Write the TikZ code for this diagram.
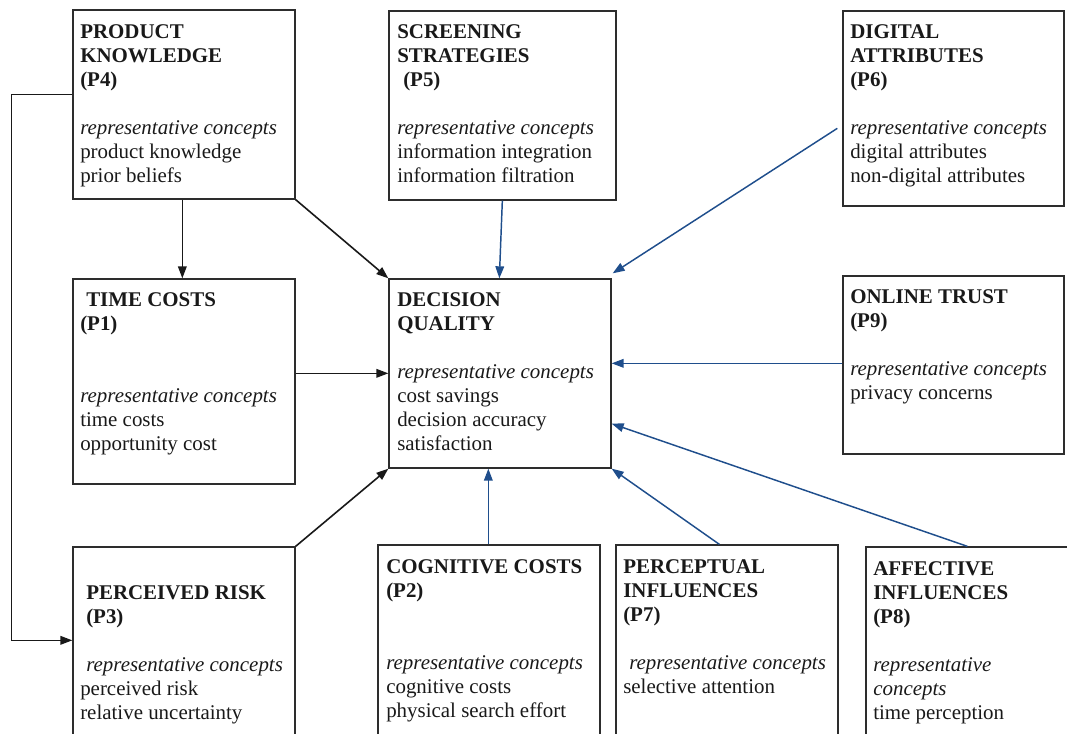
\documentclass[tikz,border=0pt]{standalone}
\usepackage{fontspec}
\setmainfont{Liberation Serif}
\usetikzlibrary{fit,calc,arrows.meta}
\definecolor{arrblue}{RGB}{31,78,140}
\definecolor{boxgray}{RGB}{45,45,45}
\definecolor{txt}{RGB}{25,25,25}
\newcommand{\rc}{\textit{representative concepts}}
\begin{document}
\begin{tikzpicture}[x=0.75pt,y=-0.75pt,
  box/.style={draw=boxgray,line width=1pt,rectangle,inner sep=0pt},
  label/.style={anchor=north west,inner sep=0pt,align=left,text=txt,font=\fontsize{15.7}{18}\selectfont},
  blk/.style={draw=black!90,line width=1.2pt,-{Triangle[length=9pt,width=6.5pt]}},
  blu/.style={draw=arrblue,line width=1.1pt,-{Triangle[length=9pt,width=6.5pt]}}]
\useasboundingbox (0,0) rectangle (1067,734);
\clip (0,0) rectangle (1067,734);
% boxes
\node[box,fit={(73,10) (295,199)}] (p4) {};
\node[box,fit={(389,11) (616,200)}] (p5) {};
\node[box,fit={(843,11) (1064,206)}] (p6) {};
\node[box,fit={(73,279) (295,484)}] (p1) {};
\node[box,fit={(389,279) (611,468)}] (dq) {};
\node[box,fit={(843,276) (1064,454)}] (p9) {};
\node[box,fit={(73,547) (295,760)}] (p3) {};
\node[box,fit={(378,545) (600,760)}] (p2) {};
\node[box,fit={(616,545) (838,760)}] (p7) {};
\node[box,fit={(866,547) (1095,760)}] (p8) {};
% texts
\node[label] (t4) at (80,24) {\textbf{PRODUCT}\\\textbf{KNOWLEDGE}\\\textbf{(P4)}\\[18pt]\rc\\product knowledge\\prior beliefs};
\node[label] (t5) at (397,24) {\textbf{SCREENING}\\\textbf{STRATEGIES}\\\hspace*{4.5pt}\textbf{(P5)}\\[18pt]\rc\\information integration\\information filtration};
\node[label] (t6) at (850,24) {\textbf{DIGITAL}\\\textbf{ATTRIBUTES}\\\textbf{(P6)}\\[18pt]\rc\\digital attributes\\non-digital attributes};
\node[label] (t1) at (80,292) {\hspace*{4.5pt}\textbf{TIME COSTS}\\\textbf{(P1)}\\[36pt]\rc\\time costs\\opportunity cost};
\node[label] (tq) at (397,292) {\textbf{DECISION}\\\textbf{QUALITY}\\[18pt]\rc\\cost savings\\decision accuracy\\satisfaction};
\node[label] (t9) at (850,289) {\textbf{ONLINE TRUST}\\\textbf{(P9)}\\[18pt]\rc\\privacy concerns};
\node[label] (t3) at (80,585) {\hspace*{4.5pt}\textbf{PERCEIVED RISK}\\\hspace*{4.5pt}\textbf{(P3)}\\[18pt]\hspace*{4.5pt}\rc\\perceived risk\\relative uncertainty};
\node[label] (t2) at (386,559) {\textbf{COGNITIVE COSTS}\\\textbf{(P2)}\\[36pt]\rc\\cognitive costs\\physical search effort};
\node[label] (t7) at (623,559) {\textbf{PERCEPTUAL}\\\textbf{INFLUENCES}\\\textbf{(P7)}\\[18pt]\hspace*{4.5pt}\rc\\selective attention};
\node[label] (t8) at (873,561) {\textbf{AFFECTIVE}\\\textbf{INFLUENCES}\\\textbf{(P8)}\\[18pt]\textit{representative}\\\textit{concepts}\\time perception};
% connectors
\draw[blk] ($(p4.south west)+(110,0)$) -- ($(p1.north west)+(110,0)$);
\draw[blk] (p4.south east) -- (dq.north west);
\draw[blu] ($(p5.south west)+(114,0)$) -- ($(dq.north west)+(111,0)$);
\draw[blu] ($(p6.north west)+(-5,118)$) -- ($(dq.north east)+(1,-5)$);
\draw[blk] ($(p1.north east)+(0,95)$) -- ($(dq.north west)+(0,95)$);
\draw[blu] ($(p9.north west)+(0,88)$) -- ($(dq.north east)+(0,85)$);
\draw[blk] (p3.north east) -- (dq.south west);
\draw[blu] ($(p2.north west)+(111,0)$) -- ($(dq.south west)+(100,0)$);
\draw[blu] ($(p7.north west)+(104,0)$) -- (dq.south east);
\draw[blu] ($(p8.north west)+(102,0)$) -- ($(dq.south east)+(0,-45)$);
\draw[blk] ($(p4.north west)+(0,85)$) -- ++(-61,0) |- ($(p3.north west)+(0,94)$);
\end{tikzpicture}
\end{document}
